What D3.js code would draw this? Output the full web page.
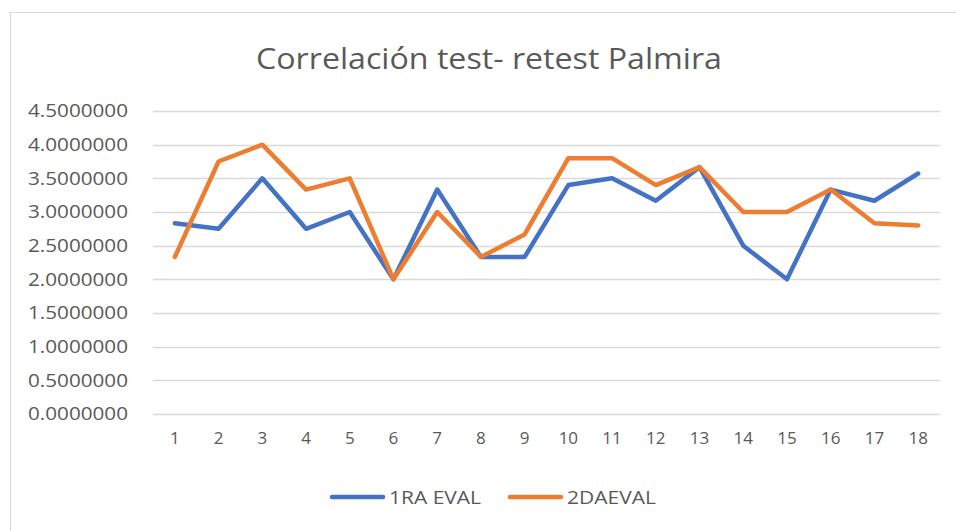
<!DOCTYPE html>
<html>
<head>
<meta charset="utf-8">
<script src="https://cdn.jsdelivr.net/npm/d3@7"></script>
<style>
  body { margin: 0; background: #fff; }
  text { font-family: "Open Sans", "Noto Sans", sans-serif; fill: #595959; }
</style>
</head>
<body>
<script>
var categories = ["1","2","3","4","5","6","7","8","9","10","11","12","13","14","15","16","17","18"];
var eval1 = [2.8333, 2.75, 3.5, 2.75, 3.0, 2.0, 3.3333, 2.3333, 2.3333, 3.4, 3.5, 3.1667, 3.6667, 2.5, 2.0, 3.3333, 3.1667, 3.5714];
var eval2 = [2.3333, 3.75, 4.0, 3.3333, 3.5, 2.0, 3.0, 2.3333, 2.6667, 3.8, 3.8, 3.4, 3.6667, 3.0, 3.0, 3.3333, 2.8333, 2.8];
var yTicks = [0, 0.5, 1, 1.5, 2, 2.5, 3, 3.5, 4, 4.5];
var seriesNames = ["1RA EVAL", "2DAEVAL"];
var colors = ["#4472C4", "#ED7D31"];

var w = 956;
var h = 531;

var svg = d3.select("body")
    .append("svg")
    .attr("width", w)
    .attr("height", h);

// chart frame
svg.append("rect")
    .attr("x", 10.5)
    .attr("y", 12.5)
    .attr("width", w)
    .attr("height", h)
    .attr("fill", "#fff")
    .attr("stroke", "#D9D9D9");

svg.append("text")
    .attr("x", 489)
    .attr("y", 69)
    .attr("text-anchor", "middle")
    .attr("textLength", 466)
    .attr("lengthAdjust", "spacingAndGlyphs")
    .style("font-size", "30px")
    .text("Correlación test- retest Palmira");

// plot area bounds
var pLeft = 153, pRight = 940, pTop = 111, pBottom = 414;

var xScale = d3.scaleBand()
    .domain(categories)
    .range([pLeft, pRight]);

var yScale = d3.scaleLinear()
    .domain([0, 4.5])
    .range([pBottom, pTop]);

// gridlines
svg.append("g")
    .selectAll("line")
    .data(yTicks)
    .enter()
    .append("line")
    .attr("x1", pLeft)
    .attr("x2", pRight)
    .attr("y1", function(d) { return Math.round(yScale(d)) + 0.5; })
    .attr("y2", function(d) { return Math.round(yScale(d)) + 0.5; })
    .attr("stroke", "#D9D9D9")
    .attr("stroke-width", 1.3);

var yAxis = svg.append("g")
    .attr("transform", "translate(" + pLeft + ",0)")
    .call(d3.axisLeft(yScale)
        .tickValues(yTicks)
        .tickSize(0)
        .tickPadding(25)
        .tickFormat(d3.format(".7f")));
yAxis.select(".domain").remove();
yAxis.selectAll("text")
    .style("font-size", "18px")
    .attr("textLength", 100)
    .attr("lengthAdjust", "spacingAndGlyphs")
    .attr("fill", "#595959");

var xAxis = svg.append("g")
    .attr("transform", "translate(0," + pBottom + ")")
    .call(d3.axisBottom(xScale).tickSize(0).tickPadding(18));
xAxis.select(".domain").remove();
xAxis.selectAll("text")
    .style("font-size", "17px")
    .attr("fill", "#595959");

var line = d3.line()
    .x(function(d, i) { return xScale(categories[i]) + xScale.bandwidth() / 2; })
    .y(function(d) { return yScale(d); });

[eval1, eval2].forEach(function(s, k) {
    svg.append("path")
        .datum(s)
        .attr("fill", "none")
        .attr("stroke", colors[k])
        .attr("stroke-width", 4.5)
        .attr("stroke-linejoin", "round")
        .attr("stroke-linecap", "round")
        .attr("d", line);
});

// legend
var legendX = [330, 508];
var legendW = [92, 89];
seriesNames.forEach(function(name, k) {
    svg.append("line")
        .attr("x1", legendX[k] + 2)
        .attr("x2", legendX[k] + 53)
        .attr("y1", 497)
        .attr("y2", 497)
        .attr("stroke", colors[k])
        .attr("stroke-width", 4.5)
        .attr("stroke-linecap", "round");
    svg.append("text")
        .attr("x", legendX[k] + 59)
        .attr("y", 504)
        .attr("textLength", legendW[k])
        .attr("lengthAdjust", "spacingAndGlyphs")
        .style("font-size", "19px")
        .text(name);
});
</script>
</body>
</html>
